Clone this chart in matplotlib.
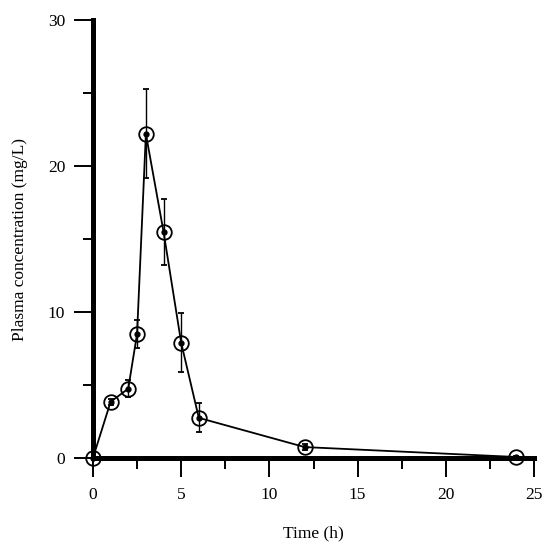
import matplotlib
matplotlib.use("Agg")
import matplotlib.pyplot as plt

time_h = [0, 1, 2, 2.5, 3, 4, 5, 6, 12, 24]
conc = [0.0, 3.85, 4.75, 8.5, 22.2, 15.5, 7.9, 2.75, 0.75, 0.07]
sd = [0.0, 0.2, 0.6, 0.95, 3.05, 2.25, 2.0, 1.0, 0.2, 0.05]
x_ticks = [0, 5, 10, 15, 20, 25]
y_ticks = [0, 10, 20, 30]

plt.rcParams['font.family'] = ['Liberation Serif', 'DejaVu Serif']

fig = plt.figure(figsize=(5.5, 5.45), dpi=100)
ax = fig.add_axes([0.169, 0.1596, 0.802, 0.8037])

ax.errorbar(time_h, conc, yerr=sd, color='black', lw=1.3, elinewidth=1.0,
            capsize=2.5, capthick=1.0, marker='o', ms=10.5, mfc='none',
            mec='black', mew=1.3, clip_on=False, zorder=3)
ax.plot(time_h, conc, ls='none', marker='o', ms=3.5, color='black',
        clip_on=False, zorder=4)

ax.set_xlim(0, 25)
ax.set_ylim(0, 30)
ax.set_xticks(x_ticks)
ax.set_yticks(y_ticks)
ax.set_xticks([2.5, 7.5, 12.5, 17.5, 22.5], minor=True)
ax.set_yticks([5, 15, 25], minor=True)

for s in ['top', 'right']:
    ax.spines[s].set_visible(False)
for s in ['left', 'bottom']:
    ax.spines[s].set_linewidth(3.6)
    ax.spines[s].set_zorder(2)

ax.tick_params(axis='both', which='major', direction='out', length=14,
               width=1.4, labelsize=12.5, pad=6)
ax.tick_params(axis='x', which='major', pad=7)
ax.tick_params(axis='x', which='minor', direction='out', length=8, width=1.4)
ax.tick_params(axis='y', which='minor', direction='out', length=7, width=1.4)

ax.set_xlabel('Time (h)', fontsize=12.5, labelpad=16)
ax.set_ylabel('Plasma concentration (mg/L)', fontsize=12.5, labelpad=14)

fig.savefig('out.png', dpi=100)
